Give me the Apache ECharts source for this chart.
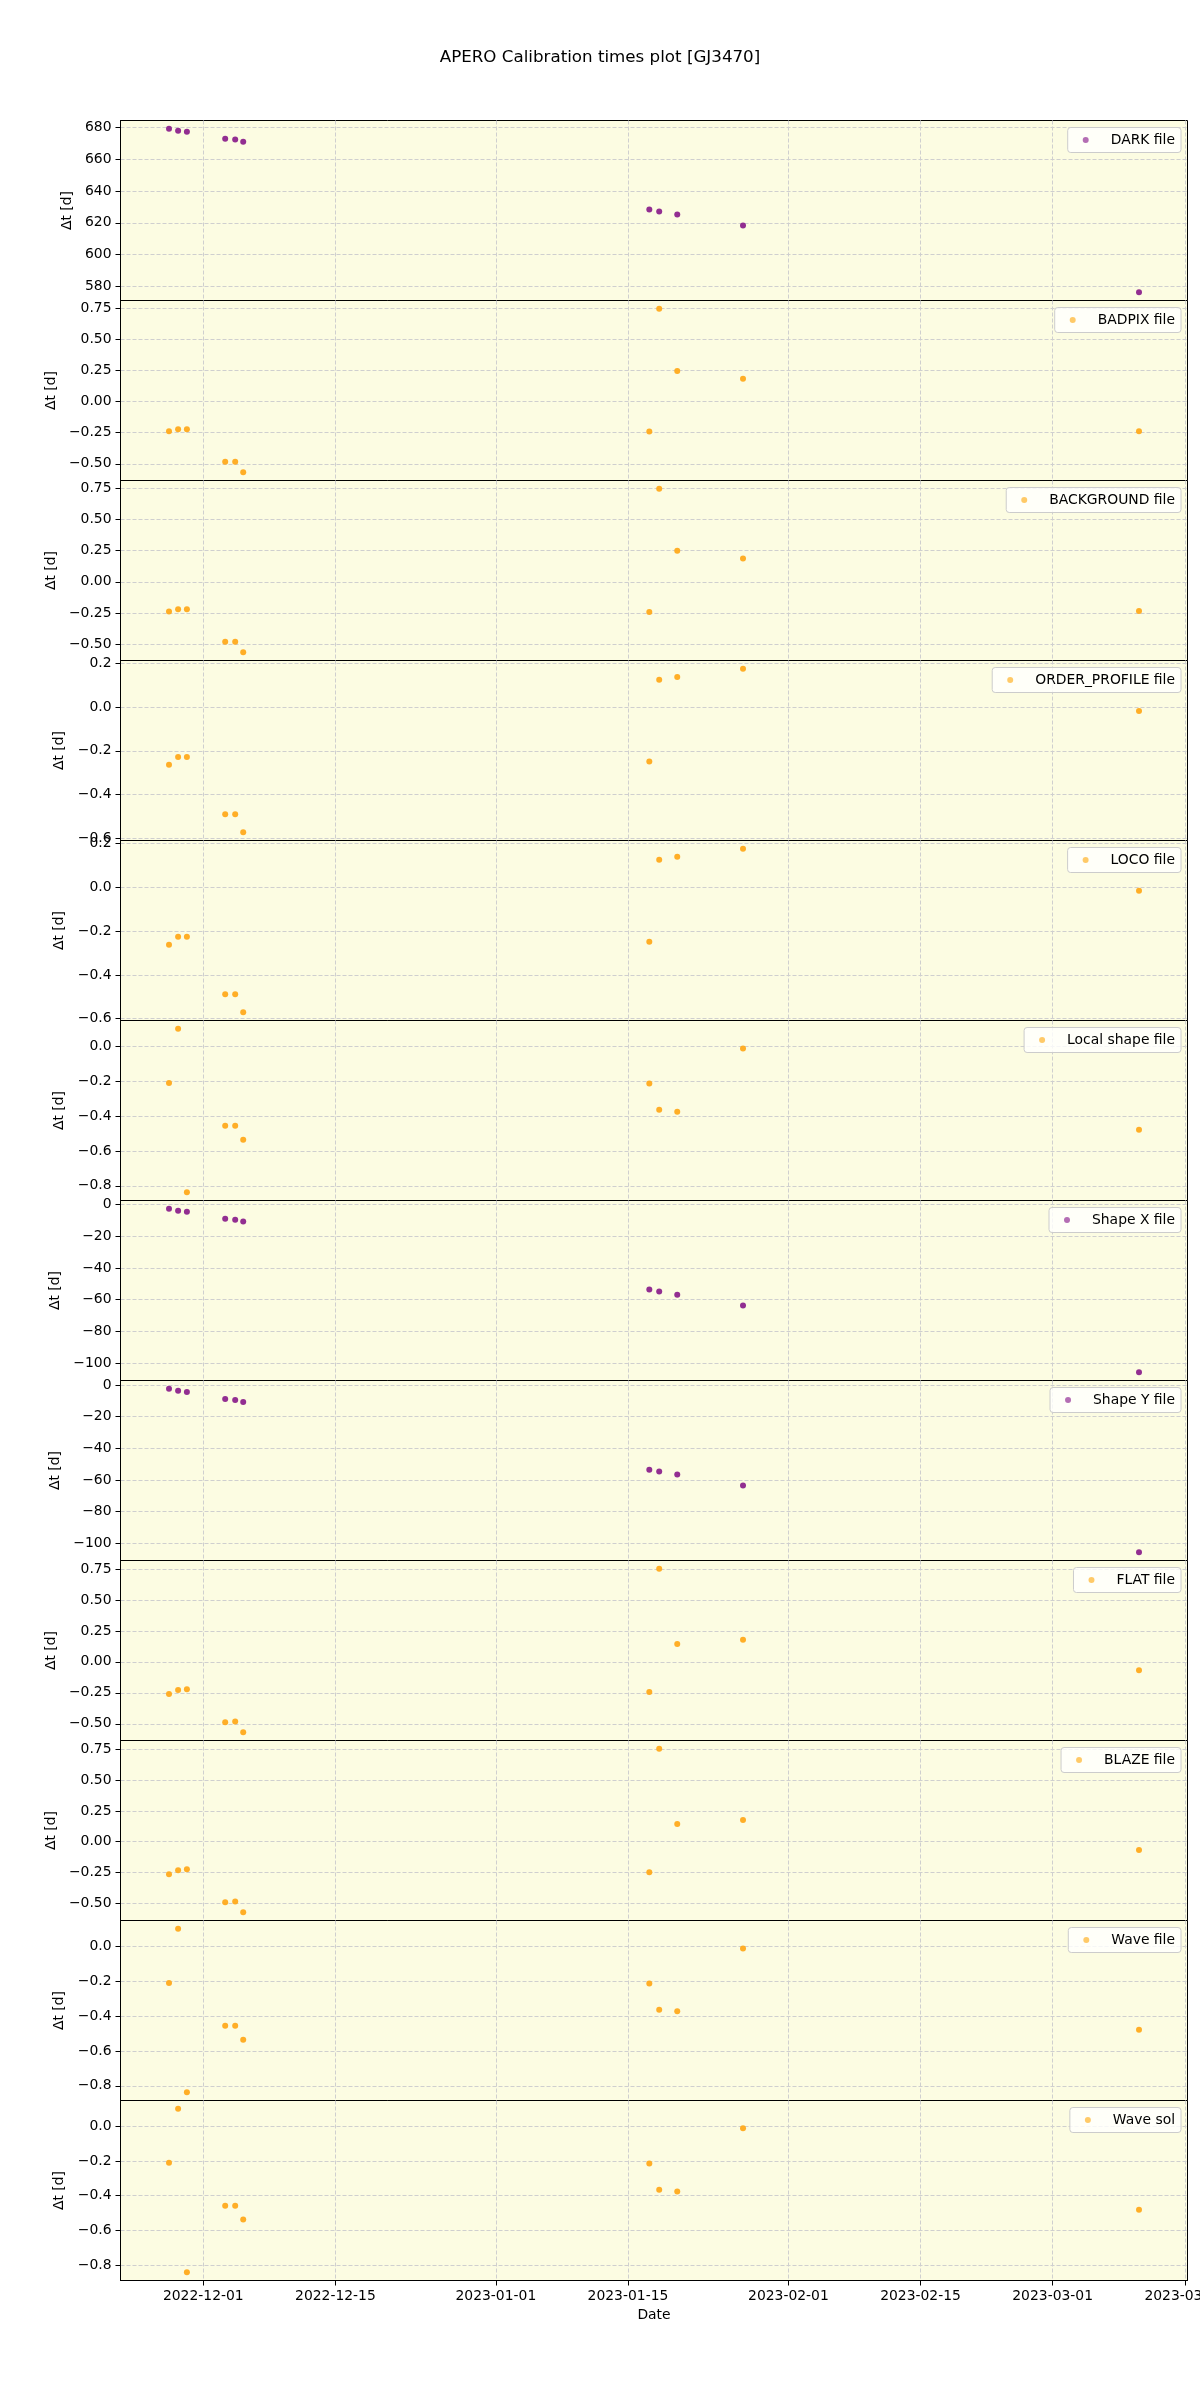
<!DOCTYPE html>
<html><head><meta charset="utf-8">
<script src="https://cdn.jsdelivr.net/npm/echarts@6/dist/echarts.min.js"></script>
<style>html,body{margin:0;padding:0;background:#fff}#c{width:1200px;height:2400px}</style>
</head><body><div id="c"></div>
<script>
// ---- data ----
const obsDates = ['2022-11-27T08:47Z','2022-11-28T07:55Z','2022-11-29T06:19Z','2022-12-03T07:41Z','2022-12-04T09:07Z','2022-12-05T05:31Z','2023-01-17T06:14Z','2023-01-18T07:26Z','2023-01-20T05:17Z','2023-01-27T04:34Z','2023-03-10T03:36Z'];
const darkDt        = [679.4, 678.1, 677.5, 673.1, 672.5, 671.2, 628.4, 627.2, 625.3, 618.4, 576.2];
const badpixDt      = [-0.237, -0.221, -0.221, -0.483, -0.483, -0.569, -0.240, 0.750, 0.248, 0.186, -0.237];
const backgroundDt  = [-0.237, -0.220, -0.220, -0.481, -0.481, -0.565, -0.242, 0.747, 0.250, 0.188, -0.234];
const orderProfDt   = [-0.263, -0.228, -0.228, -0.489, -0.489, -0.572, -0.249, 0.125, 0.137, 0.175, -0.018];
const locoDt        = [-0.262, -0.226, -0.226, -0.488, -0.488, -0.571, -0.248, 0.126, 0.140, 0.177, -0.015];
const localShapeDt  = [-0.209, 0.102, -0.837, -0.455, -0.455, -0.535, -0.213, -0.363, -0.374, -0.012, -0.478];
const shapeXDt      = [-2.7, -4.0, -4.6, -9.0, -9.6, -10.7, -53.5, -54.9, -56.8, -63.7, -105.7];
const shapeYDt      = [-2.3, -3.6, -4.4, -8.8, -9.4, -10.7, -53.5, -54.7, -56.6, -63.5, -105.7];
const flatDt        = [-0.260, -0.227, -0.222, -0.487, -0.482, -0.569, -0.244, 0.753, 0.144, 0.179, -0.068];
const blazeDt       = [-0.264, -0.231, -0.223, -0.492, -0.486, -0.573, -0.247, 0.755, 0.144, 0.177, -0.068];
const waveFileDt    = [-0.209, 0.102, -0.837, -0.455, -0.455, -0.535, -0.213, -0.363, -0.372, -0.012, -0.478];
const waveSolDt     = [-0.210, 0.100, -0.840, -0.457, -0.457, -0.537, -0.215, -0.365, -0.376, -0.013, -0.480];

const seriesNames = ['DARK file','BADPIX file','BACKGROUND file','ORDER_PROFILE file','LOCO file','Local shape file','Shape X file','Shape Y file','FLAT file','BLAZE file','Wave file','Wave sol'];

const ticksDark   = [580, 600, 620, 640, 660, 680];
const ticksQuart  = [-0.5, -0.25, 0, 0.25, 0.5, 0.75];
const ticksOP     = [-0.6, -0.4, -0.2, 0, 0.2];
const ticksLS     = [-0.8, -0.6, -0.4, -0.2, 0];
const ticksShape  = [-100, -80, -60, -40, -20, 0];
const xTickDates  = ['2022-12-01','2022-12-15','2023-01-01','2023-01-15','2023-02-01','2023-02-15','2023-03-01','2023-03-15'];

// ---- styling / layout ----
const PURPLE = '#8c238c', PURPLE_L = '#b066b0';
const ORANGE = '#ffaa1c', ORANGE_L = '#ffc760';
const FONT = 'DejaVu Sans';
const panels = [
  {v: darkDt,       c: 'p', t: ticksDark,  d: 0, gap: 42},
  {v: badpixDt,     c: 'o', t: ticksQuart, d: 2, gap: 58},
  {v: backgroundDt, c: 'o', t: ticksQuart, d: 2, gap: 58},
  {v: orderProfDt,  c: 'o', t: ticksOP,    d: 1, gap: 49},
  {v: locoDt,       c: 'o', t: ticksOP,    d: 1, gap: 49},
  {v: localShapeDt, c: 'o', t: ticksLS,    d: 1, gap: 49},
  {v: shapeXDt,     c: 'p', t: ticksShape, d: 0, gap: 53},
  {v: shapeYDt,     c: 'p', t: ticksShape, d: 0, gap: 53},
  {v: flatDt,       c: 'o', t: ticksQuart, d: 2, gap: 58},
  {v: blazeDt,      c: 'o', t: ticksQuart, d: 2, gap: 58},
  {v: waveFileDt,   c: 'o', t: ticksLS,    d: 1, gap: 49},
  {v: waveSolDt,    c: 'o', t: ticksLS,    d: 1, gap: 49}
];
const TOP = 120.5, PH = 180, LEFT = 120.5, W = 1067;

const ts = obsDates.map(s => Date.parse(s));
const xTicks = xTickDates.map(s => Date.parse(s + 'T00:00:00Z'));
const xMinD = Math.min(...ts), xMaxD = Math.max(...ts), xr = xMaxD - xMinD;
const xMin = xMinD - 0.05 * xr, xMax = xMaxD + 0.05 * xr;

function fmt(v, d) {
  let s = Math.abs(v) < 1e-9 ? (0).toFixed(d) : v.toFixed(d);
  return s.replace('-', '\u2212');
}

const grid = [], xAxis = [], yAxis = [], series = [], legend = [];
const dashLine = {show: true, lineStyle: {color: '#cfcfcf', type: [4, 2], width: 1}};
panels.forEach((p, i) => {
  const last = i === panels.length - 1;
  const top = TOP + PH * i;
  grid.push({left: LEFT, width: W, top: top, height: PH, show: true,
    backgroundColor: '#fcfce2', borderColor: '#000', borderWidth: 1,
    containLabel: false, outerBoundsMode: 'none'});
  xAxis.push({type: 'value', gridIndex: i, min: xMin, max: xMax,
    axisLine: {show: last, onZero: false, lineStyle: {color: '#000', width: 1}},
    axisTick: {show: last, customValues: xTicks, length: 5, lineStyle: {color: '#000'}},
    axisLabel: {show: last, customValues: xTicks, margin: 9, color: '#000', fontFamily: FONT, fontSize: 13.9,
      hideOverlap: false, formatter: v => new Date(v).toISOString().slice(0, 10)},
    splitLine: dashLine,
    name: last ? 'Date' : '', nameLocation: 'middle', nameGap: 28,
    nameTextStyle: {color: '#000', fontFamily: FONT, fontSize: 13.9}
  });
  const mn = Math.min(...p.v), mx = Math.max(...p.v), r = mx - mn;
  yAxis.push({type: 'value', gridIndex: i, min: mn - 0.05 * r, max: mx + 0.05 * r,
    axisLine: {show: true, onZero: false, lineStyle: {color: '#000', width: 1}},
    axisTick: {show: true, customValues: p.t, length: 5, lineStyle: {color: '#000'}},
    axisLabel: {customValues: p.t, margin: 9, color: '#000', fontFamily: FONT, fontSize: 13.9,
      hideOverlap: false, formatter: v => fmt(v, p.d)},
    splitLine: dashLine,
    name: '\u0394t [d]', nameLocation: 'middle', nameGap: p.gap,
    nameTextStyle: {color: '#000', fontFamily: FONT, fontSize: 13.9}
  });
  const col = p.c === 'p' ? PURPLE : ORANGE;
  const colL = p.c === 'p' ? PURPLE_L : ORANGE_L;
  series.push({type: 'scatter', name: seriesNames[i], xAxisIndex: i, yAxisIndex: i,
    data: ts.map((t, j) => [t, p.v[j]]), symbol: 'circle', symbolSize: 6,
    itemStyle: {color: col, opacity: 0.95}, emphasis: {disabled: true}, silent: true});
  legend.push({data: [seriesNames[i]], right: 19, top: top + 7, icon: 'circle',
    itemWidth: 6, itemHeight: 6, padding: [5, 6, 5, 15], selectedMode: false,
    backgroundColor: 'rgba(255,255,255,0.8)', borderColor: '#cccccc', borderWidth: 1, borderRadius: 3,
    itemStyle: {color: colL},
    textStyle: {color: '#000', fontFamily: FONT, fontSize: 13.9, lineHeight: 15, padding: [0, 0, 0, 17]}});
});

const chart = echarts.init(document.getElementById('c'), null, {renderer: 'canvas'});
chart.setOption({
  animation: false,
  backgroundColor: '#ffffff',
  title: {text: 'APERO Calibration times plot [GJ3470]', left: 'center', top: 49, padding: 0,
    textStyle: {color: '#000', fontFamily: FONT, fontSize: 16.7, fontWeight: 'normal'}},
  grid, xAxis, yAxis, series, legend
});
</script></body></html>
